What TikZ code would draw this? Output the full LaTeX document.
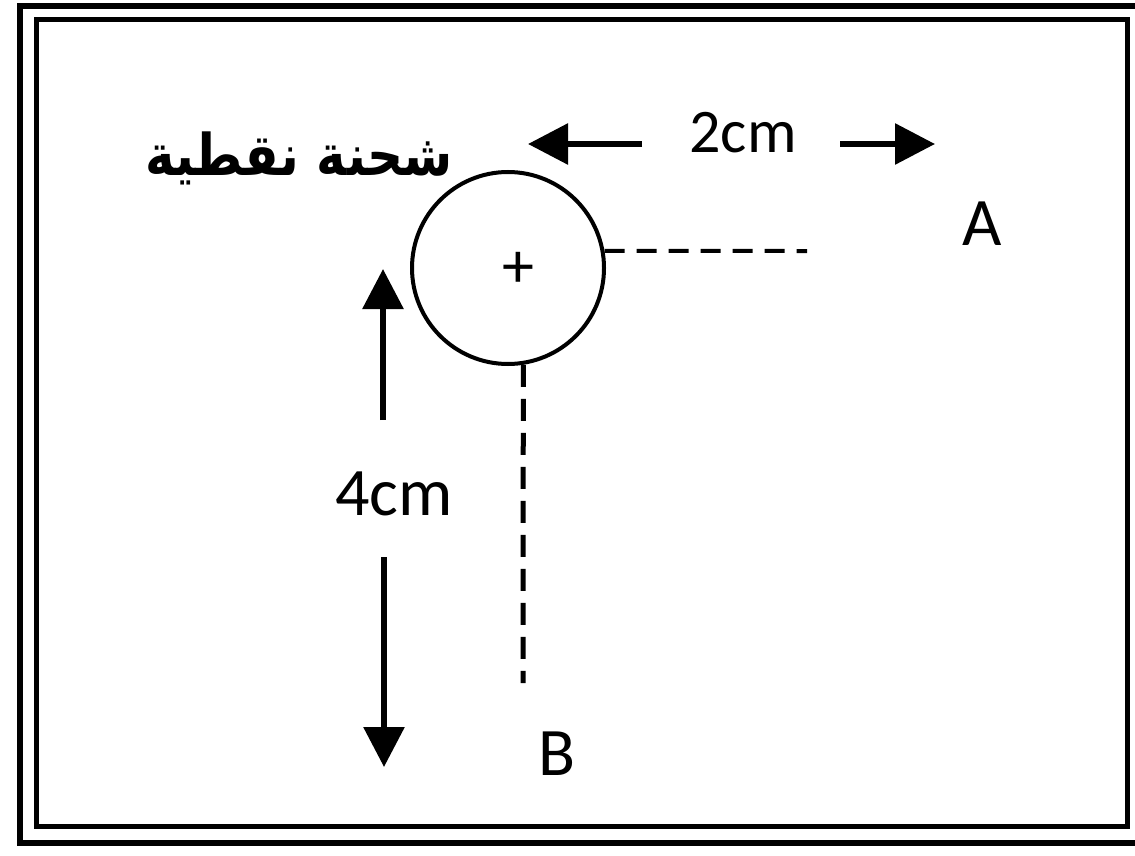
\documentclass[tikz,border=0pt]{standalone}
\usepackage{fontspec}
\setmainfont{Carlito}
\newfontfamily\arabicfont[Script=Arabic]{DejaVu Sans}
\TeXXeTstate=1
\usetikzlibrary{arrows.meta}
\tikzset{
  frameline/.style={line width=3pt, line join=miter},
  innerframe/.style={line width=2.5pt},
  dimarrow/.style={line width=3pt, -{Triangle[length=20pt,width=20pt]}},
  hdash/.style={line width=2pt, dash pattern=on 10pt off 6pt},
  vdash/.style={line width=2.5pt, dash pattern=on 11pt off 6pt},
  lbl/.style={inner sep=0pt, anchor=base, font=\fontsize{34pt}{40pt}\selectfont},
}
\begin{document}
\begin{tikzpicture}[x=0.5pt,y=-0.5pt]
\useasboundingbox[fill=white] (0,0) rectangle (1135,856);
% frames
\draw[frameline] (1140,6) -- (20,6) -- (20,843) -- (1140,843);
\draw[innerframe] (36,20) rectangle (1127,826);
% point charge
\node[circle, draw, line width=2pt, minimum size=96pt, inner sep=0pt] (charge) at (508,268) {};
\node[inner sep=0pt, font=\fontsize{32pt}{34pt}\selectfont] (plus) at (518,270) {+};
\node[inner sep=0pt, anchor=base, yscale=1.15, font=\arabicfont\bfseries\fontsize{25pt}{30pt}\selectfont] (name) at (299,176) {\beginR شحنة نقطية\endR};
% 2cm dimension
\node[lbl, font=\fontsize{31pt}{36pt}\selectfont] (l2) at (743,153) {2cm};
\coordinate (h1s) at (642,144);
\coordinate (h1e) at (528,144);
\coordinate (h2s) at (840,144);
\coordinate (h2e) at (935,144);
\draw[dimarrow] (h1s) -- (h1e);
\draw[dimarrow] (h2s) -- (h2e);
% 4cm dimension
\node[lbl] (l4) at (394,515) {4cm};
\coordinate (v1s) at (383,420);
\coordinate (v1e) at (383,269);
\coordinate (v2s) at (384,557);
\coordinate (v2e) at (384,767);
\draw[dimarrow] (v1s) -- (v1e);
\draw[dimarrow] (v2s) -- (v2e);
% points
\node[lbl] (A) at (982,245) {A};
\node[lbl] (B) at (557,775) {B};
\coordinate (dA) at (807,251);
\coordinate (dB) at (523,683);
\draw[hdash] (charge.10) -- (dA);
\draw[vdash] (charge.-81) -- (dB);
\end{tikzpicture}
\end{document}
